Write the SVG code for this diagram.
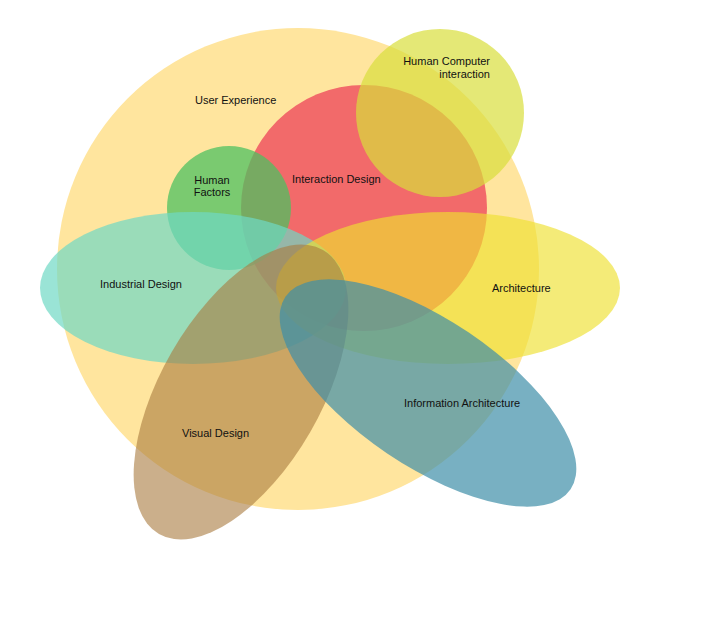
<svg xmlns="http://www.w3.org/2000/svg" width="706" height="624" viewBox="0 0 706 624">
<style>
text{font-family:"Liberation Sans",Arial,sans-serif;font-size:11px;fill:#111}
</style>
<rect width="706" height="624" fill="#fff"/>
<g id="ux"><circle cx="298" cy="269" r="241" fill="#FFE59E"/></g>
<g id="ixd"><circle cx="364" cy="208" r="123" fill="#F26A6A"/></g>
<g id="hci"><circle cx="440" cy="113" r="84" fill="#D8DE3C" fill-opacity="0.7"/></g>
<g id="hf"><circle cx="229" cy="208" r="62" fill="#4DC060" fill-opacity="0.75"/></g>
<g id="id"><ellipse cx="193" cy="288" rx="153" ry="76" fill="#6FD8C4" fill-opacity="0.7"/></g>
<g id="arch"><ellipse cx="448" cy="288" rx="172" ry="76" fill="#EEE030" fill-opacity="0.65"/></g>
<g id="vd"><ellipse cx="241" cy="392" rx="80" ry="164" transform="rotate(30 241 392)" fill="#A87A3E" fill-opacity="0.6"/></g>
<g id="ia"><ellipse cx="428" cy="393" rx="172" ry="73" transform="rotate(34 428 393)" fill="#3E8FA8" fill-opacity="0.7"/></g>
<g id="labels">
<text x="195" y="104">User Experience</text>
<text x="490" y="65" text-anchor="end">Human Computer</text>
<text x="490" y="78" text-anchor="end">interaction</text>
<text x="292" y="183">Interaction Design</text>
<text x="212" y="184" text-anchor="middle">Human</text>
<text x="212" y="196" text-anchor="middle">Factors</text>
<text x="100" y="288">Industrial Design</text>
<text x="492" y="292">Architecture</text>
<text x="404" y="407">Information Architecture</text>
<text x="182" y="437">Visual Design</text>
</g>
<g id="connectors"/>
</svg>
